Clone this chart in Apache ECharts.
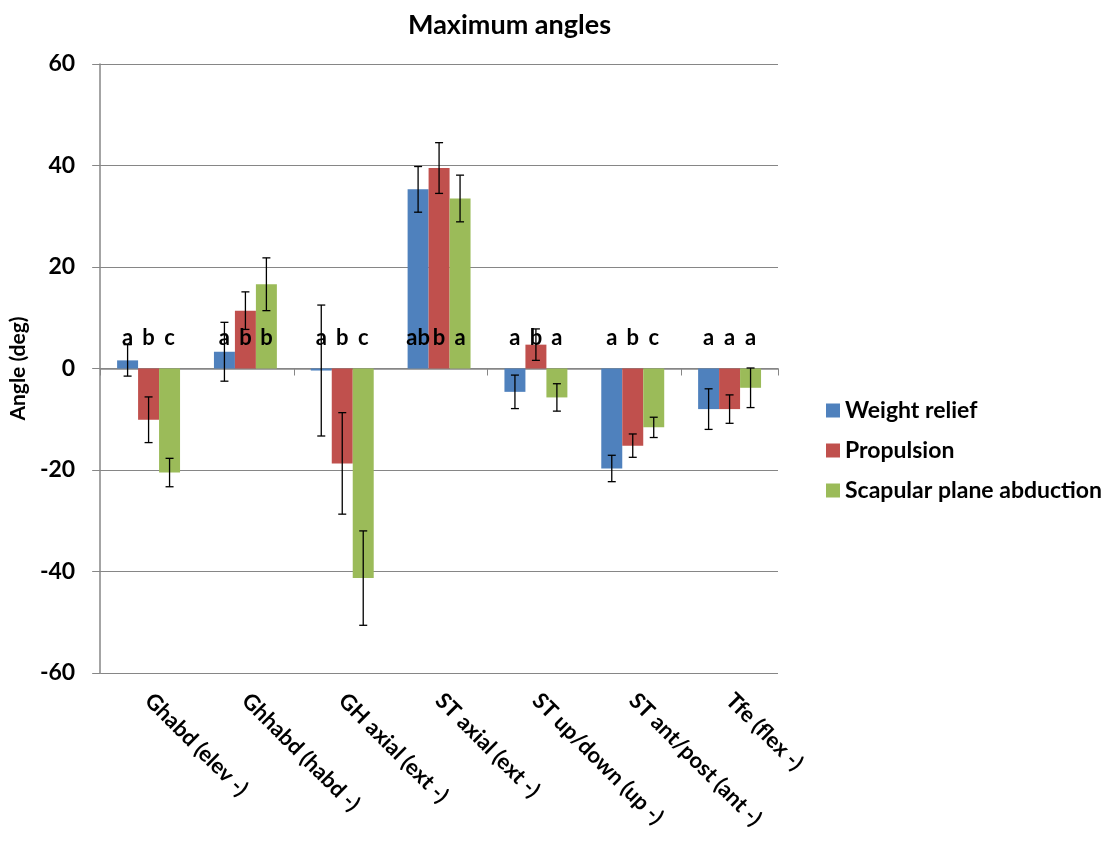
<!DOCTYPE html>
<html>
<head>
<meta charset="utf-8">
<title>Maximum angles</title>
<script src="https://cdn.jsdelivr.net/npm/echarts@6/dist/echarts.min.js"></script>
<style>
  html, body { margin: 0; padding: 0; background: #fff; }
  #chart { width: 1118px; height: 844px; }
</style>
</head>
<body>
<div id="chart"></div>
<script>
// Joint motion categories
const categories = ['Ghabd (elev -)', 'Ghhabd (habd -)', 'GH axial (ext -)', 'ST axial (ext -)',
  'ST up/down (up -)', 'ST ant/post (ant -)', 'Tfe (flex -)'];

// Mean maximum angles (deg) and standard deviations per task
const weightRelief = [1.6, 3.3, -0.4, 35.3, -4.6, -19.7, -8.0];
const weightReliefSD = [3.1, 5.8, 12.9, 4.5, 3.3, 2.6, 4.0];
const propulsion = [-10.1, 11.4, -18.7, 39.5, 4.7, -15.2, -8.0];
const propulsionSD = [4.5, 3.7, 10.0, 5.0, 3.1, 2.3, 2.8];
const scapularAbduction = [-20.5, 16.6, -41.3, 33.5, -5.7, -11.6, -3.8];
const scapularAbductionSD = [2.8, 5.2, 9.3, 4.6, 2.7, 2.0, 3.9];

// Significance letters per task
const weightReliefSig = ['a', 'a', 'a', 'ab', 'a', 'a', 'a'];
const propulsionSig = ['b', 'b', 'b', 'b', 'b', 'b', 'a'];
const scapularAbductionSig = ['c', 'b', 'c', 'a', 'a', 'c', 'a'];

// Value axis ticks
const yMin = -60, yMax = 60, yStep = 20;

const FONT = 'Lato, "Liberation Sans", sans-serif';
const CAT_GAP = 0.35;          // fraction of each category left empty
const LETTER_LEVEL = 6;        // height (deg) at which letters sit

const seriesDefs = [
  { name: 'Weight relief', values: weightRelief, sd: weightReliefSD, sig: weightReliefSig, color: '#4F81BD' },
  { name: 'Propulsion', values: propulsion, sd: propulsionSD, sig: propulsionSig, color: '#C0504D' },
  { name: 'Scapular plane abduction', values: scapularAbduction, sd: scapularAbductionSD, sig: scapularAbductionSig, color: '#9BBB59' }
];

function barOffset(api, idx) {
  const catW = api.size([1, 0])[0];
  const barW = catW * (1 - CAT_GAP) / seriesDefs.length;
  return (idx - (seriesDefs.length - 1) / 2) * barW;
}

function errorBarRenderer(idx) {
  return function (params, api) {
    const c = api.value(0);
    const lo = api.coord([c, api.value(1)]);
    const hi = api.coord([c, api.value(2)]);
    const x = lo[0] + barOffset(api, idx);
    const hw = 4;
    const style = { stroke: '#000', lineWidth: 1.3 };
    return {
      type: 'group',
      children: [
        { type: 'line', shape: { x1: x, y1: lo[1], x2: x, y2: hi[1] }, style: style },
        { type: 'line', shape: { x1: x - hw, y1: lo[1], x2: x + hw, y2: lo[1] }, style: style },
        { type: 'line', shape: { x1: x - hw, y1: hi[1], x2: x + hw, y2: hi[1] }, style: style }
      ]
    };
  };
}

function letterRenderer(idx) {
  return function (params, api) {
    const c = api.value(0);
    const p = api.coord([c, LETTER_LEVEL]);
    return {
      type: 'text',
      x: p[0] + barOffset(api, idx),
      y: p[1],
      style: {
        text: seriesDefs[idx].sig[c],
        font: 'bold 22px ' + FONT,
        fill: '#000',
        align: 'center',
        verticalAlign: 'middle'
      }
    };
  };
}

const series = [];
seriesDefs.forEach(function (d) {
  series.push({
    name: d.name,
    type: 'bar',
    data: d.values,
    barGap: '0%',
    barCategoryGap: (CAT_GAP * 100) + '%',
    itemStyle: { color: d.color },
    z: 2
  });
});
seriesDefs.forEach(function (d, i) {
  series.push({
    name: d.name + ' SD',
    type: 'custom',
    renderItem: errorBarRenderer(i),
    data: d.values.map(function (v, k) { return [k, v - d.sd[k], v + d.sd[k]]; }),
    z: 5,
    silent: true
  });
});
seriesDefs.forEach(function (d, i) {
  series.push({
    name: d.name + ' sig',
    type: 'custom',
    renderItem: letterRenderer(i),
    data: d.sig.map(function (s, k) { return [k]; }),
    z: 6,
    silent: true
  });
});

const chart = echarts.init(document.getElementById('chart'), null, { renderer: 'canvas' });
chart.setOption({
  animation: false,
  backgroundColor: '#fff',
  title: {
    text: 'Maximum angles',
    left: 403,
    top: 7,
    textStyle: { fontFamily: FONT, fontWeight: 'bold', fontSize: 27, color: '#000' }
  },
  legend: {
    data: seriesDefs.map(function (d) { return d.name; }),
    orient: 'vertical',
    left: 821,
    top: 394,
    itemWidth: 14,
    itemHeight: 14,
    itemGap: 17,
    icon: 'rect',
    textStyle: { fontFamily: FONT, fontWeight: 'bold', fontSize: 23, color: '#000' }
  },
  grid: { left: 98, right: 340, top: 64, bottom: 171 },
  xAxis: [
    {
      type: 'category',
      data: categories,
      position: 'bottom',
      axisLine: { onZero: true, lineStyle: { color: '#868686', width: 1.5 } },
      axisTick: { show: true, length: 7, lineStyle: { color: '#868686' } },
      axisLabel: { show: false },
      splitLine: { show: false }
    },
    {
      type: 'category',
      data: categories,
      position: 'bottom',
      axisLine: { show: false, onZero: false },
      axisTick: { show: false },
      axisLabel: {
        show: true,
        rotate: -45,
        margin: 24,
        interval: 0,
        fontFamily: FONT,
        fontWeight: 'bold',
        fontSize: 22,
        color: '#000'
      }
    }
  ],
  yAxis: {
    type: 'value',
    min: yMin,
    max: yMax,
    interval: yStep,
    name: 'Angle (deg)',
    nameLocation: 'middle',
    nameGap: 63,
    nameTextStyle: { fontFamily: FONT, fontWeight: 'bold', fontSize: 21, color: '#000' },
    axisLine: { show: true, lineStyle: { color: '#868686', width: 1.5 } },
    axisTick: { show: true, length: 8, lineStyle: { color: '#868686' } },
    axisLabel: { margin: 25, fontFamily: FONT, fontWeight: 'bold', fontSize: 23, color: '#000' },
    splitLine: { show: true, lineStyle: { color: '#868686', width: 1.2 } }
  },
  series: series
});
</script>
</body>
</html>
